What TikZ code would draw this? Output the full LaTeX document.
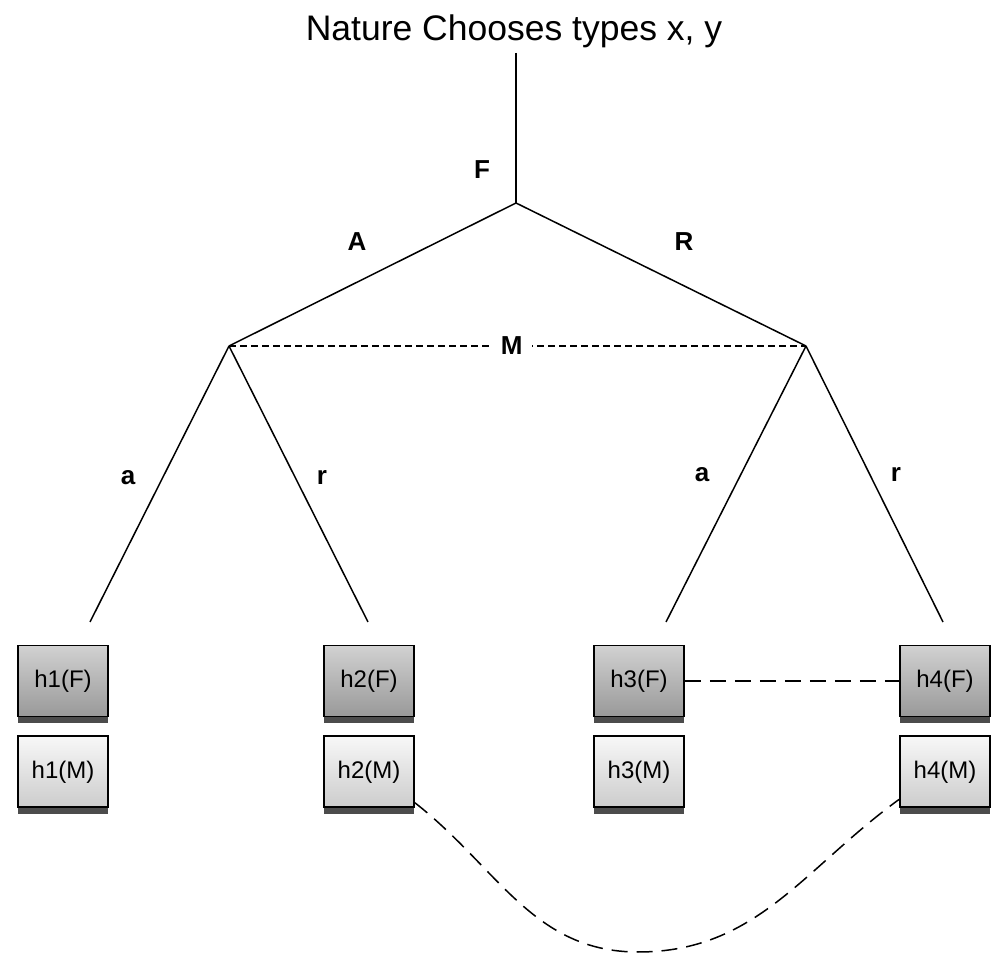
\documentclass[tikz,border=0pt]{standalone}
\usepackage{fontspec}
\setmainfont{Liberation Sans}
\usetikzlibrary{
  positioning,
  shadows
}

\begin{document}
\begin{tikzpicture}[
      x=1pt, y=1pt,
      ftype/.style={rectangle, draw, line width=1.8pt, minimum width=90pt, minimum height=71pt, inner sep=0pt, top color=gray!36, bottom color=gray!80, font=\fontsize{24}{28}\selectfont, drop shadow={shadow xshift=0pt, shadow yshift=-7pt, fill=black, opacity=0.7}},
      mtype/.style={ftype, top color=gray!6, bottom color=gray!40},
      lbl/.style={font=\fontsize{26}{30}\selectfont\bfseries},
      branch/.style={line width=1.5pt},
      infoset/.style={line width=1.5pt, dash pattern=on 7pt off 4pt},
      linkset/.style={line width=1.5pt, dash pattern=on 16pt off 9pt}
    ]
      \useasboundingbox (0,0) rectangle (1008,960);

      % Nodes
      \node[font=\fontsize{35.5}{42}\selectfont] (title) at (514,929) {Nature Chooses types x, y};
      \coordinate (top) at (516,907);
      \coordinate (root) at (516,757);
      \coordinate (nodeL) at (229,614);
      \coordinate (nodeR) at (806,614);
      \coordinate (l1) at (90,338);
      \coordinate (l2) at (368,338);
      \coordinate (l3) at (666,338);
      \coordinate (l4) at (943,338);
      \coordinate (dip) at (638,8);

      \foreach \i/\x in {1/63, 2/369, 3/639, 4/945} {
        \node[ftype] (h\i F) at (\x,279) {h\i(F)};
        \node[mtype, below=18pt of h\i F] (h\i M) {h\i(M)};
      }

      % Branches
      \draw[branch] (top) -- (root);
      \draw[branch] (root) -- (nodeL);
      \draw[branch] (root) -- (nodeR);
      \draw[branch] (nodeL) -- (l1);
      \draw[branch] (nodeL) -- (l2);
      \draw[branch] (nodeR) -- (l3);
      \draw[branch] (nodeR) -- (l4);

      % Information sets
      \draw[infoset] (nodeL) -- (nodeR) node[lbl, pos=0.49, fill=white, inner sep=9pt] (mlab) {M};
      \draw[linkset] (h3F) -- (h4F);
      \draw[linkset] (h2M.-34) to[out=-38, in=180] (dip) to[out=0, in=-144] (h4M.211);

      % Labels
      \node[lbl] (flab) at (482,790) {F};
      \node[lbl] (alab) at (357,718) {A};
      \node[lbl] (rlab) at (684,718) {R};
      \node[lbl] (a1lab) at (128,482) {a};
      \node[lbl] (r1lab) at (322,482) {r};
      \node[lbl] (a2lab) at (702,485) {a};
      \node[lbl] (r2lab) at (896,485) {r};
    \end{tikzpicture}
\end{document}
